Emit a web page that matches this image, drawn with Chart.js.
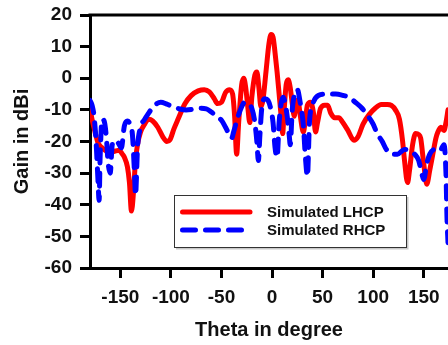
<!DOCTYPE html>
<html><head><meta charset="utf-8">
<script src="https://cdn.jsdelivr.net/npm/chart.js@4/dist/chart.umd.min.js"></script>
<style>html,body{margin:0;padding:0;background:#fff;}</style>
</head><body>
<canvas id="c" width="448" height="345"></canvas>
<script>
const lhcpTheta = [-180,-178,-175,-172,-168,-164,-160,-155,-151,-148,-146,-143,-141,-139,-137,-135,-133,-130,-126,-122,-118,-113,-108,-104,-101,-97,-93,-86,-80,-73,-67,-62,-57,-54,-50,-46,-42,-39,-37,-35,-33,-30,-28,-26,-24,-22,-20,-17,-15,-13,-11,-9,-6,-3,-1,1,3,5,7,9,10.5,12,14,16,18,20,22,24,26,28,31,33,35,38,41,43,45,48,52,55,58,62,66,70,75,81,85,90,96,102,108,114,118,122,126,129,131,134,136,139,142,145,147,150,153,156,159,162,164,167,170,172,174];
const lhcpGain = [-9.5,-13,-17,-20.5,-22,-23,-23.4,-23,-22.8,-24,-25,-28,-33,-42,-36,-26,-21,-17,-14.5,-13,-13.5,-15.5,-18.5,-20,-19.5,-16,-13,-8,-5.5,-4,-3.6,-4.3,-6.5,-8,-7.6,-4.5,-3.6,-5,-12,-24,-14,-2,0,-3,-9,-14,-6,1,2,-3,-9,-7,2,11,13.8,13,8,2,-5,-12,-17.5,-10,-2,-0.5,-3,-8,-12,-7,-7.5,-12,-17,-13,-8.5,-7.6,-11,-17,-14,-9.5,-8.5,-8.5,-11,-12.5,-12.5,-14,-16.5,-19.6,-18.5,-14.5,-11.5,-9.5,-8.3,-8.3,-8.6,-10,-13,-19.6,-26,-33,-29,-21,-17.5,-17.8,-19,-27,-33.5,-29,-24,-19,-17,-15.5,-16.5,-14,-10];
const rhcpTheta = [-180,-178,-176,-174,-172,-171,-170,-168,-166,-164,-162,-160,-158,-155,-152,-149,-146,-143,-140,-138,-136,-135,-133,-130,-126,-123,-116,-110,-104,-98,-90,-85,-78,-72,-65,-60,-55,-50,-46,-42,-40,-38,-34,-30,-27,-24,-20,-17,-15,-13.5,-12,-10,-7,-4,-1,1,3,5,7,9,11,13,15,17,18,20,23,25,28,31,33,35,37,40,46,55,63,70,76,82,89,95,100,104,109,113,118,124,131,137,141,145,148,150,153,156,161,166,170,172,173,174];
const rhcpGain = [-7,-8.5,-12,-20,-33,-38.6,-25,-13,-13.5,-18,-27,-30,-21,-19.6,-20.5,-22,-15,-13.5,-15,-18,-30,-37,-22,-15.5,-13,-11.5,-8.5,-7.6,-8.2,-9,-9.8,-10,-9.8,-9.5,-9.7,-10.7,-12,-13.3,-15.5,-18,-19,-17,-12.5,-9,-7.6,-8,-9.5,-14,-20,-26,-18,-9,-6.5,-7,-10,-14,-22,-25,-14,-8,-6,-8,-12,-18,-21,-10,-4.4,-3.6,-8,-15,-25,-31,-14,-8.5,-5.4,-5,-5,-5.4,-6,-7.5,-9.5,-12,-14.5,-17.5,-20,-22.5,-24,-24,-22.5,-23,-24,-26,-30,-32,-27,-24,-22.5,-23,-21,-30,-44,-52];
const seriesLabels = ['Simulated LHCP','Simulated RHCP'];
const xTickValues = [-150,-100,-50,0,50,100,150];
const yTickValues = [20,10,0,-10,-20,-30,-40,-50,-60];

const FAM = '"Liberation Sans", Arial, sans-serif';
const toPts = (xs, ys) => xs.map((t, i) => ({x: t, y: ys[i]}));

const frameTop = {
  id: 'frameTop',
  afterDraw(chart) {
    const {ctx, chartArea: a} = chart;
    ctx.save();
    ctx.strokeStyle = '#000'; ctx.lineWidth = 3;
    ctx.beginPath(); ctx.moveTo(a.left - 1.5, a.top); ctx.lineTo(a.right, a.top); ctx.stroke();
    ctx.restore();
  }
};
const boxLegend = {
  id: 'boxLegend',
  afterDraw(chart) {
    const {ctx, chartArea: a} = chart;
    const bx = a.left + 84, by = a.bottom - 73, bw = 232, bh = 52;
    ctx.save();
    ctx.fillStyle = '#fff'; ctx.fillRect(bx, by, bw, bh);
    ctx.strokeStyle = '#c8c8c8'; ctx.lineWidth = 2;
    ctx.beginPath(); ctx.moveTo(bx + bw + 1.5, by + 2); ctx.lineTo(bx + bw + 1.5, by + bh + 1.5); ctx.lineTo(bx + 2, by + bh + 1.5); ctx.stroke();
    ctx.strokeStyle = '#333'; ctx.lineWidth = 1;
    ctx.strokeRect(bx + 0.5, by + 0.5, bw, bh);
    chart.data.datasets.forEach((ds, i) => {
      const y = by + 17 + i * 18;
      ctx.strokeStyle = ds.borderColor; ctx.lineWidth = ds.borderWidth;
      ctx.lineCap = 'round';
      ctx.setLineDash(ds.borderDash || []);
      ctx.beginPath(); ctx.moveTo(bx + 8.5, y); ctx.lineTo(bx + 76, y); ctx.stroke();
      ctx.setLineDash([]);
      ctx.fillStyle = '#111';
      ctx.font = 'bold 15px ' + FAM;
      ctx.textBaseline = 'middle'; ctx.textAlign = 'left';
      ctx.fillText(ds.label, bx + 93, y + 0.5);
    });
    ctx.restore();
  }
};

new Chart(document.getElementById('c'), {
  type: 'line',
  data: {
    datasets: [
      {label: seriesLabels[0], data: toPts(lhcpTheta, lhcpGain), borderColor: '#ff0000', borderWidth: 5,
       pointRadius: 0, cubicInterpolationMode: 'monotone', borderCapStyle: 'round', borderJoinStyle: 'round', fill: false, order: 1},
      {label: seriesLabels[1], data: toPts(rhcpTheta, rhcpGain), borderColor: '#0000ff', borderWidth: 5,
       borderDash: [13, 10], pointRadius: 0, cubicInterpolationMode: 'monotone', borderCapStyle: 'round', borderJoinStyle: 'round', fill: false, order: 0}
    ]
  },
  options: {
    responsive: false, animation: false, devicePixelRatio: 1,
    layout: {padding: {top: 15, right: 0, bottom: 0, left: 0}},
    plugins: {legend: {display: false}, tooltip: {enabled: false}},
    scales: {
      x: {
        type: 'linear', min: -180, max: 174,
        afterBuildTicks(s) { s.ticks = xTickValues.map(v => ({value: v})); },
        afterFit(s) { s.height = 77; s.paddingLeft = 0; s.paddingRight = 0; },
        grid: {drawOnChartArea: false, drawTicks: true, tickLength: 10, tickWidth: 3, color: '#000'},
        border: {display: true, width: 3, color: '#000'},
        ticks: {font: {family: FAM, size: 19, weight: 'bold'}, color: '#111', padding: 8, maxRotation: 0, autoSkip: false},
        title: {display: true, text: 'Theta in degree', font: {family: FAM, size: 20, weight: 'bold'}, color: '#111', padding: {top: 0, bottom: 3}}
      },
      y: {
        type: 'linear', min: -60, max: 20,
        afterBuildTicks(s) { s.ticks = yTickValues.map(v => ({value: v})); },
        afterFit(s) { s.width = 90; s.paddingTop = 0; s.paddingBottom = 0; },
        grid: {drawOnChartArea: false, drawTicks: true, tickLength: 10, tickWidth: 3, color: '#000'},
        border: {display: true, width: 3, color: '#000'},
        ticks: {font: {family: FAM, size: 19, weight: 'bold'}, color: '#111', padding: 8, autoSkip: false},
        title: {display: true, text: 'Gain in dBi', font: {family: FAM, size: 20, weight: 'bold'}, color: '#111', padding: {top: 10, bottom: 0}}
      }
    }
  },
  plugins: [frameTop, boxLegend]
});
</script>
</body></html>
